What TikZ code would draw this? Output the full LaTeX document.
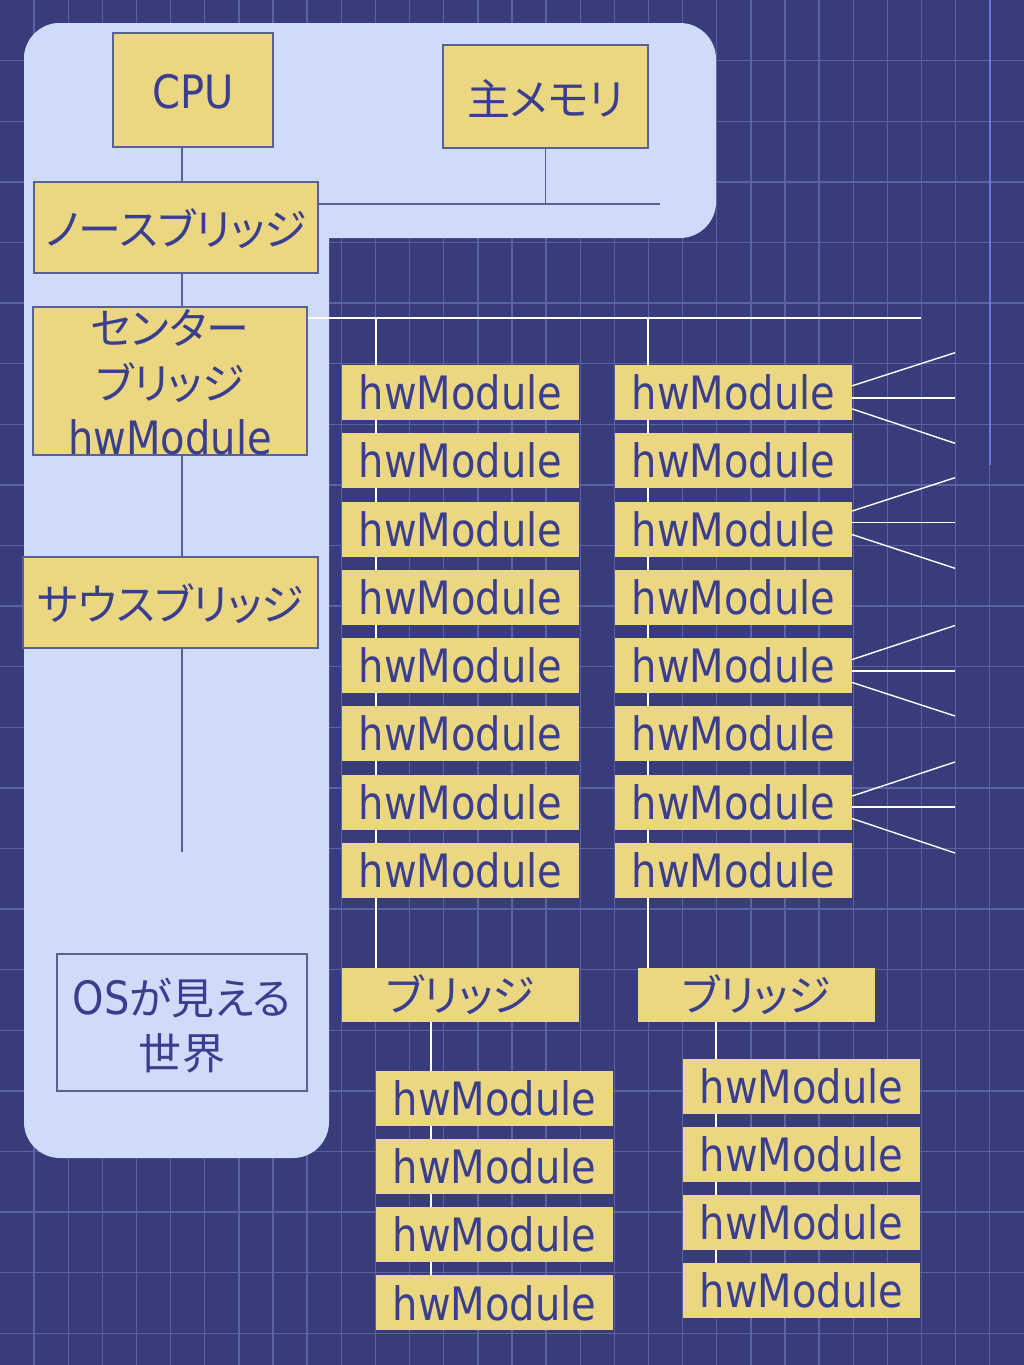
\documentclass[tikz,border=0pt]{standalone}
\usepackage{fontspec}
\setmainfont[FakeStretch=0.87]{DejaVu Sans}
\newfontfamily\jp[RawFeature=+palt, Scale=0.935]{Noto Sans CJK JP}
\definecolor{navy}{RGB}{56,60,122}
\definecolor{gridc}{RGB}{90,98,166}
\definecolor{panel}{RGB}{206,220,250}
\definecolor{boxy}{RGB}{235,214,129}
\definecolor{txt}{RGB}{58,62,142}
\definecolor{edge}{RGB}{88,96,150}
\definecolor{hl}{RGB}{100,118,226}
\tikzset{
  gridline/.style={gridc, line width=1.4pt},
  ybox/.style={fill=boxy, draw=edge, line width=1.3pt, inner sep=0pt},
  hw/.style={fill=boxy, draw=none, minimum width=237pt, minimum height=55pt, inner sep=0pt, text=txt, font=\fontsize{46}{54}\selectfont},
  lbl/.style={text=txt, inner sep=0pt, align=center, font=\fontsize{46}{55}\selectfont},
  ink/.style={edge, line width=1.4pt},
  wire/.style={white, line width=1.4pt},
}
\begin{document}
\begin{tikzpicture}[x=1pt,y=-1pt]
\useasboundingbox (0,0) rectangle (1024,1365);
\fill[navy] (0,0) rectangle (1024,1365);
\foreach \k in {1,...,29} \draw[gridline] (\k*34.13,0) -- (\k*34.13,1365);
\foreach \k in {1,...,22} \draw[gridline] (0,\k*60.6) -- (1024,\k*60.6);
\draw[hl, line width=2pt] (990,0) -- (990,465);
% light panel
\fill[panel, rounded corners=36pt] (24,23) rectangle (716,238);
\fill[panel, rounded corners=36pt] (24,23) rectangle (329,1158);
% panel boxes
\node[ybox, minimum width=160pt, minimum height=114pt] (cpu) at (193,90) {};
\node[lbl] (cput) at (193,92) {CPU};
\node[ybox, minimum width=205pt, minimum height=103pt] (mem) at (545.5,96.5) {};
\node[lbl] (memt) at (545.5,99) {\jp 主メモリ};
\node[ybox, minimum width=284pt, minimum height=91pt] (nb) at (176,227.5) {};
\node[lbl] (nbt) at (176,229) {\jp ノースブリッジ};
\node[ybox, minimum width=274pt, minimum height=148pt] (cb) at (170,381) {};
\node[ybox, minimum width=295pt, minimum height=91pt] (sb) at (170.5,602.5) {};
\node[lbl] (sbt) at (170.5,604) {\jp サウスブリッジ};
\node[draw=edge, line width=1.2pt, minimum width=250pt, minimum height=137pt] (os) at (182,1022.5) {};
\node[lbl] (ost) at (182,1026) {OS{\jp が見える}\\{\jp 世界}};
% panel connectors
\coordinate (cx) at (182,0);
\coordinate (busend) at (660,204);
\coordinate (sbend) at (182,852);
\draw[ink] (cpu.south -| cx) -- (nb.north -| cx);
\draw[ink] (nb.south -| cx) -- (cb.north -| cx);
\draw[ink] (cb.south -| cx) -- (sb.north -| cx);
\draw[ink] (sb.south -| cx) -- (sbend);
\draw[ink] (nb.east |- busend) -- (busend);
\draw[ink] (mem.south) -- (mem.south |- busend);
\node[lbl] (cbt) at (170,382) {{\jp センター}\\{\jp ブリッジ}\\hwModule};
% white bus and drops
\coordinate (cbusend) at (921,318);
\coordinate (lx) at (376,318);
\coordinate (rx) at (648,318);
\coordinate (lsx) at (431,0);
\coordinate (rsx) at (716,0);
\draw[wire] (cb.east |- cbusend) -- (cbusend);
% bridges
\node[hw, minimum height=54pt] (lbr) at (460.5,995) {\jp ブリッジ};
\node[hw, minimum height=54pt] (rbr) at (756,995) {\jp ブリッジ};
\draw[wire] (lx) -- (lx |- lbr.north);
\draw[wire] (rx) -- (rx |- rbr.north);
% sub columns positions
\foreach \i in {1,...,4} {
  \coordinate (lsp\i) at (494.5,{1098+68.3*(\i-1)});
  \coordinate (rsp\i) at (801.5,{1086+68.2*(\i-1)});
}
\node[hw] (ls4) at (lsp4) {hwModule};
\node[hw] (rs4) at (rsp4) {hwModule};
\draw[wire] (lbr.south -| lsx) -- (ls4.north -| lsx);
\draw[wire] (rbr.south -| rsx) -- (rs4.north -| rsx);
\foreach \i in {1,...,3} {
  \node[hw] (ls\i) at (lsp\i) {hwModule};
  \node[hw] (rs\i) at (rsp\i) {hwModule};
}
% main columns
\foreach \i in {1,...,8} {
  \node[hw] (l\i) at (460.5,{392.5+68.25*(\i-1)}) {hwModule};
  \node[hw] (r\i) at (733.5,{392.5+68.25*(\i-1)}) {hwModule};
}
% fan lines
\foreach \r/\ua/\ub/\ma/\mb/\la/\lb in {1/6.7/352.7/-5.4/397.9/-16.4/443.3,
                                         3/18/477.7/6.5/522.5/-5.6/568.3,
                                         5/6/625.5/-5.5/671/-17/716,
                                         7/6/762/-5/807/-16.6/853} {
  \coordinate (fu\r) at (955,\ub);
  \coordinate (fm\r) at (955,\mb);
  \coordinate (fl\r) at (955,\lb);
  \draw[wire] ([yshift=\ua pt]r\r.east) -- (fu\r);
  \draw[wire] ([yshift=\ma pt]r\r.east) -- (fm\r);
  \draw[wire] ([yshift=\la pt]r\r.east) -- (fl\r);
}
\end{tikzpicture}
\end{document}
